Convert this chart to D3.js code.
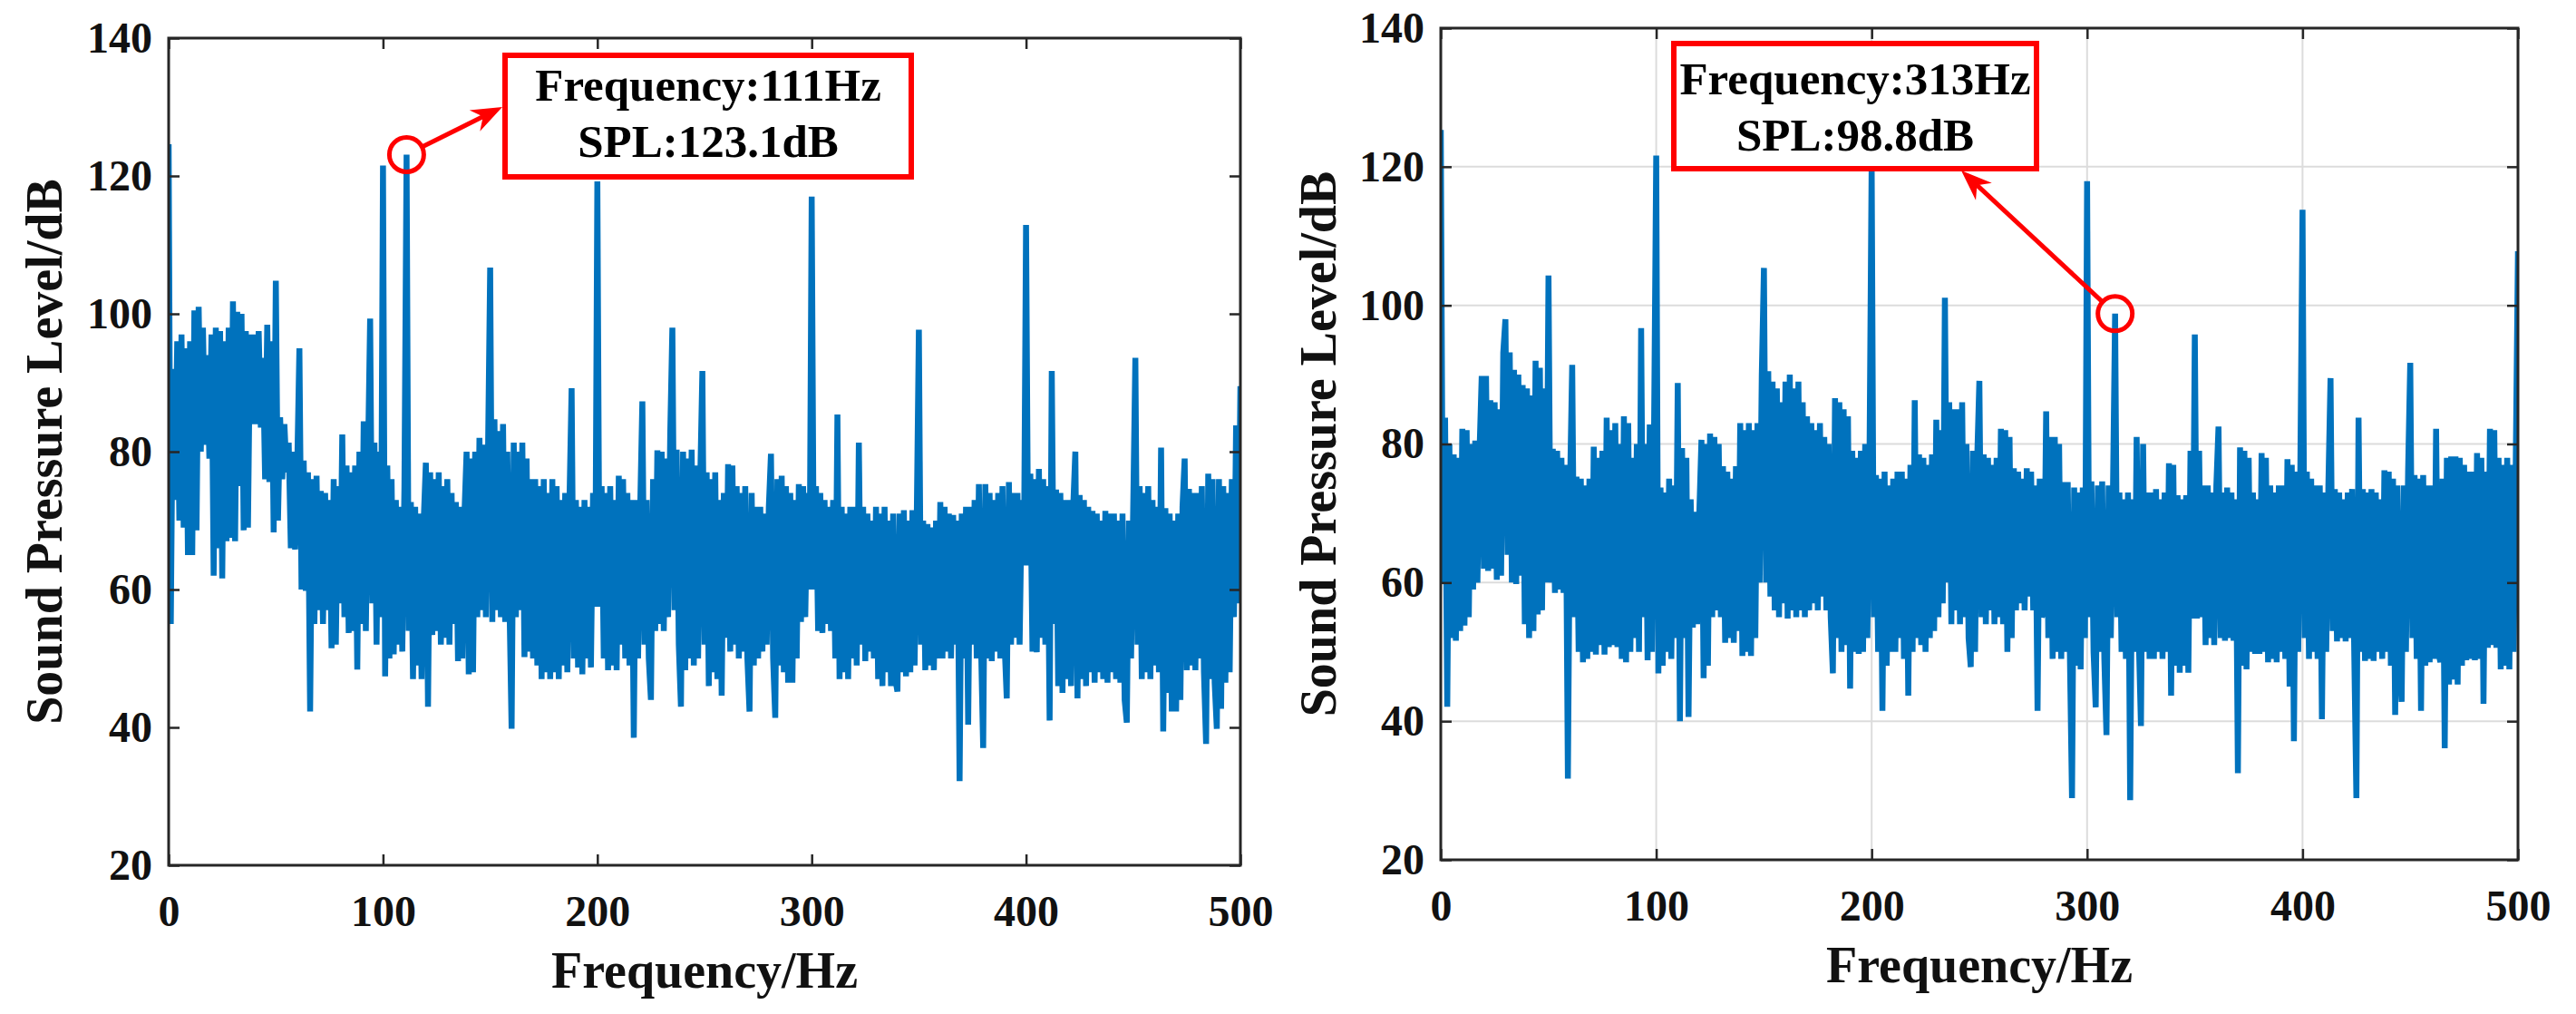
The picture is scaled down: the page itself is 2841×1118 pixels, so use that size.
<!DOCTYPE html>
<html>
<head>
<meta charset="utf-8">
<script src="https://cdn.jsdelivr.net/npm/d3@7"></script>
<style>
    html, body { margin: 0; padding: 0; background: #fff; }
    svg { display: block; }
    text { font-family: "Liberation Serif", "Times New Roman", serif; font-weight: bold; }
</style>
</head>
<body>
<svg id="chart" width="2841" height="1118"></svg>
<script>
"use strict";

var freqTicks = [0, 100, 200, 300, 400, 500];
var splTicks = [20, 40, 60, 80, 100, 120, 140];

// spectrum, 1 Hz per value, 0..500 Hz
var leftSpl = [
    124.6, 55, 92, 73, 96, 70, 97, 69, 95, 65,
    96, 65, 100.5, 68.6, 101, 80, 98, 81, 94, 79,
    97, 62, 98, 66, 97.5, 61.6, 96, 67, 98, 67.5,
    101.8, 67, 100.3, 75, 100, 68.6, 97.5, 69, 97, 84,
    97, 84, 97.5, 83.5, 93.6, 76, 98.4, 75.6, 96, 68.3,
    104.8, 70, 85, 76, 84, 77, 81.3, 66, 80, 65.8,
    78, 95, 60, 78.7, 59.8, 77, 42.3, 76, 55, 76.5,
    57, 74.3, 55, 74, 57, 73, 51.5, 76, 52, 75,
    58, 82.5, 56, 78, 53.7, 77, 54, 78, 48.4, 80,
    55, 84.4, 54, 79, 99.3, 58, 81.3, 52, 80, 56,
    121.5, 47.4, 78, 50, 76, 50.6, 73, 52, 72, 51,
    75, 123.1, 54, 72.7, 47, 72, 49, 71, 47, 70,
    78.4, 43, 77, 53.4, 76, 54, 77, 52, 75, 53,
    76, 52, 74, 55, 72.7, 49.6, 72, 50, 71, 80,
    47.7, 79, 48, 80, 56, 82, 57, 81, 56, 80,
    106.7, 55.3, 84.7, 57, 83, 56, 84, 55.3, 80, 58,
    39.8, 81.3, 56, 80, 57, 81.3, 50.2, 79, 51, 76,
    50, 76, 49, 75, 47, 76, 48, 74, 47, 76,
    48, 75, 47, 73, 49, 74, 48, 73, 89.2, 50,
    73, 48.7, 72, 47.7, 73, 50, 72, 48.7, 74, 57.5,
    119.2, 57.5, 75, 50, 74, 48.3, 75, 49, 73, 48.3,
    76.5, 52, 76, 50, 74, 49, 73, 38.5, 73, 50,
    72, 87.3, 52, 73, 50, 44, 76, 54, 80.2, 55,
    80, 54, 79, 56, 82.5, 98, 57, 80.3, 52, 43,
    80, 48.3, 79, 50, 80.3, 49, 78, 50, 76, 91.7,
    52, 77, 46, 76, 48, 77, 47, 73, 44.6, 74,
    53, 78.2, 51, 78, 52, 75, 50, 74, 51, 75,
    50, 42.3, 74, 49, 72, 50, 72, 51, 71, 52,
    72, 79.7, 50, 41.4, 76, 49, 76.5, 48, 75, 46.5,
    74, 46.5, 73, 50, 75.3, 55.3, 75, 56, 74, 60,
    117, 60, 75, 54, 74, 53.7, 73, 55, 72, 54,
    73, 50, 85.4, 47, 72, 48, 71, 47, 72, 50,
    72, 49, 81.3, 52, 72, 49.6, 71, 51, 70, 50,
    72, 47, 71, 46, 72, 48, 70, 46, 71, 47,
    45.2, 71, 48, 71.5, 47.4, 70, 48, 71.5, 49, 70,
    97.7, 52, 70, 48.3, 69.5, 49, 69, 48.3, 70, 50,
    72.7, 50, 72, 51, 71, 50, 70.8, 52, 70, 32.2,
    71, 50, 72, 40.4, 72, 52, 73, 50, 75.3, 52,
    37, 75.3, 50, 74, 49.6, 73, 51, 74, 50, 75,
    52, 44.2, 75.6, 52, 74, 53, 74, 52, 73, 63.5,
    112.9, 63.5, 76.8, 51, 76, 50.9, 77.5, 53, 76, 52,
    75, 41, 91.7, 55, 74.5, 46, 74, 45, 73, 47,
    73, 46, 72, 80, 44.2, 73.7, 47, 73, 46, 72,
    48, 71.4, 46.5, 71, 48, 70, 47, 71.4, 46.5, 71,
    48, 71, 47, 70, 46.5, 71, 44, 40.7, 70, 50,
    72, 93.6, 52, 75, 47, 74, 48, 75, 47, 73,
    49, 72, 48, 80.6, 39.4, 71.8, 45, 71, 42.3, 70,
    42.3, 71, 44, 72, 79, 48.3, 74.6, 49, 74, 48.3,
    74, 50, 75, 48, 37.6, 76.8, 47, 76, 46.5, 39.8,
    76, 42.7, 75, 46.5, 74, 48, 76, 56, 83.8, 58, 89.5
];

// spectrum, 1 Hz per value, 0..500 Hz
var rightSpl = [
    125.3, 60, 83.8, 42.1, 80, 52, 78.5, 51.6, 78, 53,
    82.2, 53.8, 82, 55, 80, 59, 80.5, 60, 79, 89.8,
    62, 89.8, 61.7, 86.3, 62, 86, 60.4, 85, 61, 93.2,
    98, 64, 93.2, 60, 90.7, 59.8, 90, 61, 88.5, 54,
    88, 52, 87, 53, 92, 55.4, 91, 56, 88, 60,
    104.3, 60, 79.3, 58.5, 79, 59, 78, 58.5, 77, 31.7,
    74, 91.4, 55, 75.3, 50, 75, 48.5, 74, 49, 75,
    50, 79.6, 49.6, 78, 51, 79, 49.6, 83.8, 50.7, 82,
    51, 83, 50.7, 80, 49, 84, 48.5, 83, 50, 78,
    52, 80, 50, 96.7, 55, 80, 48.8, 82.8, 50, 82,
    121.6, 46.9, 73.7, 48, 73, 50, 75, 49, 74, 52,
    88.8, 40, 79.4, 52, 78, 40.6, 72, 53.5, 70.2, 54,
    70, 80.6, 46.2, 80, 48, 81.5, 55, 81, 56, 80,
    55, 76.8, 51.3, 76, 52, 75, 51.3, 76.8, 53, 83,
    49.4, 82, 50, 83, 49.4, 82, 52, 83, 60, 90,
    105.4, 60, 90.5, 58, 89, 56, 88, 55, 86, 57,
    89, 54.8, 90, 56, 88, 55, 89, 56, 86, 55,
    84, 56, 83, 57, 82, 56, 83, 58, 81, 56,
    80, 55, 46.9, 86.6, 52, 86, 50, 85, 51, 84,
    44.7, 79, 50, 78, 49.7, 79, 50, 80, 52, 78,
    120.5, 55, 75.5, 50, 75, 41.5, 76, 48, 74, 50,
    75, 50, 76, 52, 76, 49, 75, 43.7, 77, 50,
    86.3, 52, 78.5, 51, 78, 50, 77, 52, 78.5, 53,
    83.5, 55, 82, 57, 101.1, 60, 86, 54, 85, 56,
    85, 54, 86, 55, 80, 52, 47.8, 79, 50, 78,
    89.1, 55, 78.5, 54, 78, 56, 77, 54, 78, 55,
    82.2, 54, 82, 50, 81, 52, 76.5, 56, 76, 57,
    75, 56, 76.5, 58, 76, 56, 74, 41.5, 75, 55,
    56, 84.7, 52, 81, 49, 81, 50, 80, 49, 74.5,
    50, 74.5, 50, 28.9, 73.7, 48, 73, 47.5, 73.7, 52,
    117.9, 55, 74.6, 50, 42, 74, 50, 74.6, 49, 38,
    74, 52, 73, 98.8, 55, 73, 50, 72, 49, 73,
    28.6, 72, 50, 81, 52, 39.3, 80, 50, 73, 49,
    73, 49, 73.5, 50, 72, 49, 73, 50, 77.2, 43.7,
    77, 48, 72.6, 47, 72, 48, 72.6, 47, 79, 54.8,
    95.8, 54.8, 79, 55, 74, 51, 74, 52, 73, 51,
    74, 82.5, 52, 73, 51.6, 73.7, 52, 73, 51.6, 72,
    32.5, 79.5, 48, 79, 47.5, 78, 50, 73, 49.7, 72,
    49.7, 78.7, 50, 78, 48.5, 74, 49, 73, 48.5, 74,
    50, 74, 49, 77.8, 45, 77, 37.1, 76, 50, 77,
    113.8, 52, 76, 49, 75, 50, 74, 49, 74, 40.3,
    73, 50, 74, 89.5, 53, 73.5, 51.5, 73, 52, 72,
    51.5, 73, 52, 73.5, 50, 28.9, 83.8, 50, 73.5, 48.7,
    73, 49, 73.5, 48.7, 73, 50, 72, 49, 76.2, 50,
    76, 48, 75, 40.9, 74, 48, 42.8, 74, 50, 76,
    91.7, 52, 75.5, 49, 75, 41.5, 75.5, 48, 74, 48.5,
    74, 49, 82.2, 50, 48.5, 75, 36.1, 78, 45.3, 78.2,
    46, 78.2, 45.3, 78, 48, 77, 48.8, 76, 49, 76,
    48.8, 78.7, 49, 78, 42.5, 76, 50.6, 82.2, 51, 82,
    50.6, 78, 47.5, 77, 48, 78, 47.5, 77, 50, 78, 107.8
];

// marked peaks: [frequency Hz, SPL dB]
var leftPeak = [111, 123.1];
var rightPeak = [313, 98.8];
var leftNote = ['Frequency:111Hz', 'SPL:123.1dB'];
var rightNote = ['Frequency:313Hz', 'SPL:98.8dB'];

var svg = d3.select('#chart');
svg.append('rect').attr('width', 2841).attr('height', 1118).attr('fill', '#fff');

var panels = [
    {
        name: 'a', left: 186, right: 1368, top: 42, bottom: 954, grid: false,
        values: leftSpl, peak: leftPeak, note: leftNote,
        box: {x: 557, y: 61, w: 448, h: 134, line1: 50, line2: 112},
        arrowTip: [554, 118], yLabelX: 68
    },
    {
        name: 'b', left: 1589, right: 2777, top: 31, bottom: 948, grid: true,
        values: rightSpl, peak: rightPeak, note: rightNote,
        box: {x: 1846, y: 48, w: 400, h: 138, line1: 56, line2: 118},
        arrowTip: [2163, 188], yLabelX: 1473
    }
];

function drawPanel(p) {
    var
        x = d3.scaleLinear().domain([0, 500]).range([p.left, p.right]),
        y = d3.scaleLinear().domain([20, 140]).range([p.bottom, p.top]),
        g = svg.append('g').attr('class', 'panel-' + p.name),
        clipId = 'clip-' + p.name;

    svg.append('clipPath').attr('id', clipId).append('rect')
        .attr('x', p.left).attr('y', p.top)
        .attr('width', p.right - p.left).attr('height', p.bottom - p.top);

    if(p.grid){
        g.append('g').selectAll('line').data(freqTicks.slice(1, -1)).enter().append('line')
            .attr('x1', function(d){ return x(d); }).attr('x2', function(d){ return x(d); })
            .attr('y1', p.top).attr('y2', p.bottom)
            .attr('stroke', '#dcdcdc').attr('stroke-width', 2);
        g.append('g').selectAll('line').data(splTicks.slice(1, -1)).enter().append('line')
            .attr('y1', function(d){ return y(d); }).attr('y2', function(d){ return y(d); })
            .attr('x1', p.left).attr('x2', p.right)
            .attr('stroke', '#dcdcdc').attr('stroke-width', 2);
    }

    g.append('path').datum(p.values)
        .attr('clip-path', 'url(#' + clipId + ')')
        .attr('d', d3.line().x(function(d, i){ return x(i); }).y(function(d){ return y(d); }))
        .attr('fill', 'none')
        .attr('stroke', '#0072bd')
        .attr('stroke-linejoin', 'bevel')
        .attr('stroke-width', 6.5);

    // axes, ticks pointing inside like matlab
    var bottomAxis = g.append('g').attr('transform', 'translate(0,' + p.bottom + ')')
        .call(d3.axisBottom(x).tickValues(freqTicks).tickSizeInner(-12).tickSizeOuter(0).tickPadding(33));
    var leftAxis = g.append('g').attr('transform', 'translate(' + p.left + ',0)')
        .call(d3.axisLeft(y).tickValues(splTicks).tickSizeInner(-12).tickSizeOuter(0).tickPadding(18));
    var topAxis = g.append('g').attr('transform', 'translate(0,' + p.top + ')')
        .call(d3.axisTop(x).tickValues(freqTicks).tickSizeInner(-12).tickSizeOuter(0).tickFormat(''));
    var rightAxis = g.append('g').attr('transform', 'translate(' + p.right + ',0)')
        .call(d3.axisRight(y).tickValues(splTicks).tickSizeInner(-12).tickSizeOuter(0).tickFormat(''));

    [bottomAxis, leftAxis, topAxis, rightAxis].forEach(function(ax){
        ax.select('.domain').remove();
        ax.selectAll('.tick line').attr('stroke', '#262626').attr('stroke-width', 2.5);
        ax.selectAll('.tick text')
            .attr('fill', '#111')
            .style('font-size', '48px');
    });

    g.append('rect')
        .attr('x', p.left).attr('y', p.top)
        .attr('width', p.right - p.left).attr('height', p.bottom - p.top)
        .attr('fill', 'none').attr('stroke', '#262626').attr('stroke-width', 3);

    g.append('text')
        .attr('x', (p.left + p.right) / 2).attr('y', p.bottom + 135)
        .attr('text-anchor', 'middle').attr('fill', '#111')
        .style('font-size', '56px')
        .text('Frequency/Hz');

    g.append('text')
        .attr('transform', 'translate(' + p.yLabelX + ',' + ((p.top + p.bottom) / 2) + ') rotate(-90)')
        .attr('text-anchor', 'middle').attr('fill', '#111')
        .style('font-size', '56px')
        .text('Sound Pressure Level/dB');

    // annotation: circle on the peak, arrow, boxed label
    var
        cx = x(p.peak[0]),
        cy = y(p.peak[1]),
        r = 19,
        tip = p.arrowTip,
        dx = tip[0] - cx,
        dy = tip[1] - cy,
        len = Math.sqrt(dx * dx + dy * dy),
        ux = dx / len,
        uy = dy / len,
        headLen = 34,
        headW = 13;

    g.append('circle')
        .attr('cx', cx).attr('cy', cy).attr('r', r)
        .attr('fill', 'none').attr('stroke', '#ff0000').attr('stroke-width', 5);

    g.append('line')
        .attr('x1', cx + ux * r).attr('y1', cy + uy * r)
        .attr('x2', tip[0] - ux * headLen * 0.6).attr('y2', tip[1] - uy * headLen * 0.6)
        .attr('stroke', '#ff0000').attr('stroke-width', 5);

    var headPts = [
        [tip[0], tip[1]],
        [tip[0] - ux * headLen - uy * headW, tip[1] - uy * headLen + ux * headW],
        [tip[0] - ux * headLen * 0.7, tip[1] - uy * headLen * 0.7],
        [tip[0] - ux * headLen + uy * headW, tip[1] - uy * headLen - ux * headW]
    ];
    g.append('path')
        .attr('d', 'M' + headPts.map(function(pt){ return pt[0] + ',' + pt[1]; }).join('L') + 'Z')
        .attr('fill', '#ff0000');

    g.append('rect')
        .attr('x', p.box.x).attr('y', p.box.y)
        .attr('width', p.box.w).attr('height', p.box.h)
        .attr('fill', '#fff').attr('stroke', '#ff0000').attr('stroke-width', 6);

    g.selectAll('text.note').data(p.note).enter().append('text')
        .attr('class', 'note')
        .attr('x', p.box.x + p.box.w / 2)
        .attr('y', function(d, i){ return p.box.y + (i === 0 ? p.box.line1 : p.box.line2); })
        .attr('text-anchor', 'middle').attr('fill', '#000')
        .style('font-size', '51px')
        .text(function(d){ return d; });
}

panels.forEach(function(p){
    drawPanel(p);
});
</script>
</body>
</html>
